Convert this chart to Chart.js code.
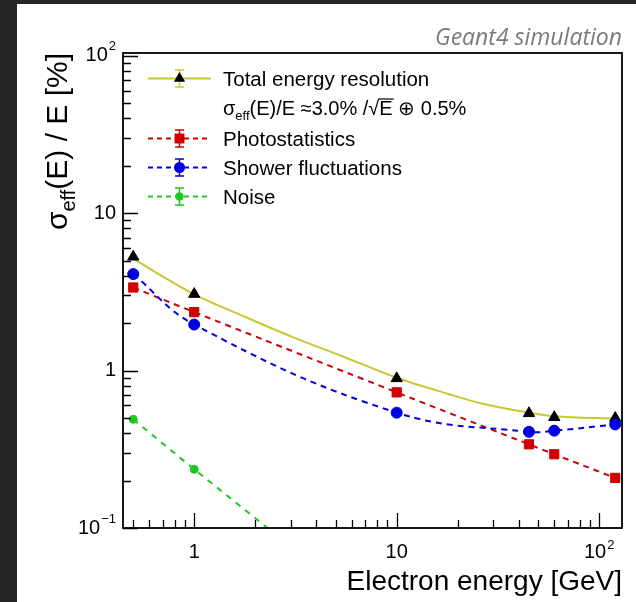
<!DOCTYPE html>
<html>
<head>
<meta charset="utf-8">
<title>Energy resolution</title>
<script src="https://cdn.jsdelivr.net/npm/chart.js@4.4.1/dist/chart.umd.min.js"></script>
<style>
  html, body { margin: 0; padding: 0; background: #262626; overflow: hidden; }
  #wrap { width: 636px; height: 602px; }
</style>
</head>
<body>
<div id="wrap"><canvas id="resChart" width="636" height="602"></canvas></div>
<script>
// measured points (electron energy in GeV, resolution in %)
const energy = [0.5, 1, 10, 45, 60, 120];
const totalRes = [5.28, 3.06, 0.892, 0.535, 0.505, 0.499];
const photoStat = [3.37, 2.35, 0.727, 0.34, 0.294, 0.208];
const showerFluct = [4.10, 1.96, 0.54, 0.408, 0.415, 0.455];
const noiseEnergy = [0.5, 1, 10];
const noise = [0.49, 0.236, 0.022];

// fitted resolution curve
const fitEnergy = [0.5, 0.7, 1, 1.8, 3, 5.5, 10, 18, 26, 45, 60, 120];
const fitRes = [5.15, 3.95, 3.05, 2.18, 1.65, 1.22, 0.90, 0.71, 0.62, 0.54, 0.512, 0.495];

// axis labels: [value, mantissa, exponent]
const xTickLabels = [[1, '1', ''], [10, '10', ''], [100, '10', '2']];
const yTickLabels = [[0.1, '10', '\u22121'], [1, '1', ''], [10, '10', ''], [100, '10', '2']];

const legendLabels = ['Total energy resolution', 'Photostatistics', 'Shower fluctuations', 'Noise'];

const FONT = '"Liberation Sans", Arial, Helvetica, sans-serif';
const YELLOW = '#c8c832';
const RED = '#d00000';
const BLUE = '#0000e0';
const GREEN = '#1ec81e';

function pts(xs, ys) {
  return xs.map((x, i) => ({ x: x, y: ys[i] }));
}

// 1..9 x 10^n ticks inside [min, max]
function logTicks(min, max) {
  const out = [];
  for (let e = Math.floor(Math.log10(min)); e <= Math.ceil(Math.log10(max)); e++) {
    for (let k = 1; k <= 9; k++) {
      const v = k * Math.pow(10, e);
      if (v >= min * 0.9999 && v <= max * 1.0001) out.push({ v: v, major: k === 1 });
    }
  }
  return out;
}

// "10" with a raised exponent
function drawPow(c, base, exp, x, y, align) {
  const big = '20px ' + FONT, small = '13px ' + FONT;
  c.font = big;
  const wb = c.measureText(base).width;
  c.font = small;
  const we = exp ? c.measureText(exp).width + 1 : 0;
  const w = wb + we;
  let x0 = x;
  if (align === 'right') x0 = x - w;
  else if (align === 'center') x0 = x - w / 2;
  c.textAlign = 'left';
  c.font = big;
  c.fillText(base, x0, y);
  if (exp) {
    c.font = small;
    c.fillText(exp, x0 + wb + 1, y - 9);
  }
}

function marker(c, style, x, y, r, color) {
  c.fillStyle = color;
  c.beginPath();
  if (style === 'triangle') {
    c.moveTo(x, y - r);
    c.lineTo(x + r * 0.866, y + r * 0.5);
    c.lineTo(x - r * 0.866, y + r * 0.5);
    c.closePath();
  } else if (style === 'rect') {
    c.rect(x - r * 0.707, y - r * 0.707, r * 1.414, r * 1.414);
  } else {
    c.arc(x, y, r, 0, Math.PI * 2);
  }
  c.fill();
}

const legendRows = [
  { text: legendLabels[0], y: 78.5, line: YELLOW, dash: [], mk: 'triangle', mkColor: '#000', r: 6.5 },
  { text: legendLabels[1], y: 138.5, line: RED, dash: [5, 4], mk: 'rect', mkColor: RED, r: 7 },
  { text: legendLabels[2], y: 167.5, line: BLUE, dash: [5, 4], mk: 'circle', mkColor: BLUE, r: 5.5 },
  { text: legendLabels[3], y: 196.5, line: GREEN, dash: [5, 4], mk: 'circle', mkColor: GREEN, r: 4.2 }
];

const decor = {
  id: 'decor',
  beforeDraw(chart) {
    const c = chart.ctx;
    c.save();
    c.fillStyle = '#262626';
    c.fillRect(0, 0, chart.width, chart.height);
    c.fillStyle = '#ffffff';
    c.fillRect(17, 4, chart.width - 17, chart.height - 4);
    c.restore();
  },
  afterDraw(chart) {
    const c = chart.ctx;
    const a = chart.chartArea;
    const xs = chart.scales.x, ys = chart.scales.y;
    c.save();

    // frame
    c.strokeStyle = '#000';
    c.lineWidth = 1.8;
    c.strokeRect(a.left, a.top, a.right - a.left, a.bottom - a.top);

    // ticks pointing inwards
    c.lineWidth = 1.3;
    c.beginPath();
    logTicks(xs.min, xs.max).forEach(t => {
      const px = Math.round(xs.getPixelForValue(t.v)) + 0.5;
      c.moveTo(px, a.bottom);
      c.lineTo(px, a.bottom - (t.major ? 15 : 8));
    });
    logTicks(ys.min, ys.max).forEach(t => {
      const py = Math.round(ys.getPixelForValue(t.v)) + 0.5;
      c.moveTo(a.left, py);
      c.lineTo(a.left + (t.major ? 15 : 8), py);
    });
    c.stroke();

    // tick labels
    c.fillStyle = '#000';
    c.textBaseline = 'alphabetic';
    xTickLabels.forEach(l => drawPow(c, l[1], l[2], xs.getPixelForValue(l[0]), 558, 'center'));
    c.textBaseline = 'middle';
    yTickLabels.forEach(l => drawPow(c, l[1], l[2], 116, ys.getPixelForValue(l[0]), 'right'));

    // x title
    c.textBaseline = 'alphabetic';
    c.textAlign = 'right';
    c.font = '28px ' + FONT;
    c.fillText('Electron energy [GeV]', a.right, 590);

    // y title, rotated, ending at the top of the axis
    c.save();
    c.translate(67, 53);
    c.rotate(-Math.PI / 2);
    c.textAlign = 'left';
    const yParts = [['\u03c3', 30, 0], ['eff', 20, 8], ['(E) / E [%]', 30, 0]];
    let yw = 0;
    yParts.forEach(p => { c.font = p[1] + 'px ' + FONT; yw += c.measureText(p[0]).width; });
    let cx = -yw;
    yParts.forEach(p => {
      c.font = p[1] + 'px ' + FONT;
      c.fillText(p[0], cx, p[2]);
      cx += c.measureText(p[0]).width;
    });
    c.restore();

    // header
    c.fillStyle = '#7a7a7a';
    c.textAlign = 'right';
    c.font = 'italic 23px "Open Sans", "DejaVu Sans", sans-serif';
    c.fillText('Geant4 simulation', a.right, 45);

    // legend
    legendRows.forEach(r => {
      c.strokeStyle = r.line;
      c.lineWidth = 2;
      c.setLineDash(r.dash);
      c.beginPath();
      c.moveTo(148, r.y);
      c.lineTo(211, r.y);
      c.stroke();
      c.setLineDash([]);
      c.lineWidth = 1.5;
      c.beginPath();
      c.moveTo(179.5, r.y - 8.5); c.lineTo(179.5, r.y + 8.5);
      c.moveTo(175, r.y - 8.5); c.lineTo(184, r.y - 8.5);
      c.moveTo(175, r.y + 8.5); c.lineTo(184, r.y + 8.5);
      c.stroke();
      marker(c, r.mk, 179.5, r.y, r.r, r.mkColor);
      c.fillStyle = '#000';
      c.textAlign = 'left';
      c.font = '20.5px ' + FONT;
      c.fillText(r.text, 223, r.y + 7);
    });

    // fit formula line
    c.fillStyle = '#000';
    c.textAlign = 'left';
    let fx = 223;
    const fy = 115;
    const seg = (t, size, dy) => {
      c.font = size + 'px ' + FONT;
      c.fillText(t, fx, fy + dy);
      const w = c.measureText(t).width;
      fx += w;
      return w;
    };
    seg('\u03c3', 20, 0);
    seg('eff', 13, 5);
    seg('(E)/E \u22483.0% /', 20, 0);
    seg('\u221a', 20, 0);
    const ex = fx;
    const ew = seg('E', 20, 0);
    c.strokeStyle = '#000';
    c.lineWidth = 1.2;
    c.beginPath();
    c.moveTo(ex - 1, fy - 16);
    c.lineTo(ex + ew + 1, fy - 16);
    c.stroke();
    seg(' \u2295 0.5%', 20, 0);

    c.restore();
  }
};

new Chart(document.getElementById('resChart'), {
  type: 'line',
  data: {
    datasets: [
      {
        label: legendLabels[2],
        data: pts(energy, showerFluct),
        borderColor: BLUE,
        borderWidth: 2,
        borderDash: [6, 5],
        tension: 0.4,
        pointStyle: 'circle',
        pointRadius: 5.5,
        pointBackgroundColor: BLUE,
        pointBorderColor: BLUE,
        pointBorderWidth: 1
      },
      {
        label: legendLabels[1],
        data: pts(energy, photoStat),
        borderColor: RED,
        borderWidth: 2,
        borderDash: [6, 5],
        tension: 0.4,
        pointStyle: 'rect',
        pointRadius: 6.5,
        pointBackgroundColor: RED,
        pointBorderColor: RED,
        pointBorderWidth: 1
      },
      {
        label: legendLabels[3],
        data: pts(noiseEnergy, noise),
        borderColor: GREEN,
        borderWidth: 2,
        borderDash: [6, 6],
        tension: 0,
        pointStyle: 'circle',
        pointRadius: 4,
        pointBackgroundColor: GREEN,
        pointBorderColor: GREEN,
        pointBorderWidth: 1
      },
      {
        label: legendLabels[0],
        data: pts(energy, totalRes),
        showLine: false,
        pointStyle: 'triangle',
        pointRadius: 6.5,
        pointBackgroundColor: '#000',
        pointBorderColor: '#000',
        pointBorderWidth: 1
      },
      {
        label: 'fit',
        data: pts(fitEnergy, fitRes),
        borderColor: YELLOW,
        borderWidth: 2,
        cubicInterpolationMode: 'monotone',
        pointRadius: 0
      }
    ]
  },
  options: {
    responsive: false,
    animation: false,
    devicePixelRatio: 1,
    layout: { padding: { left: 123, top: 53, right: 14, bottom: 74 } },
    scales: {
      x: { type: 'logarithmic', min: 0.445, max: 129.6, display: false },
      y: { type: 'logarithmic', min: 0.1, max: 104, display: false }
    },
    plugins: {
      legend: { display: false },
      tooltip: { enabled: false }
    }
  },
  plugins: [decor]
});
</script>
</body>
</html>
